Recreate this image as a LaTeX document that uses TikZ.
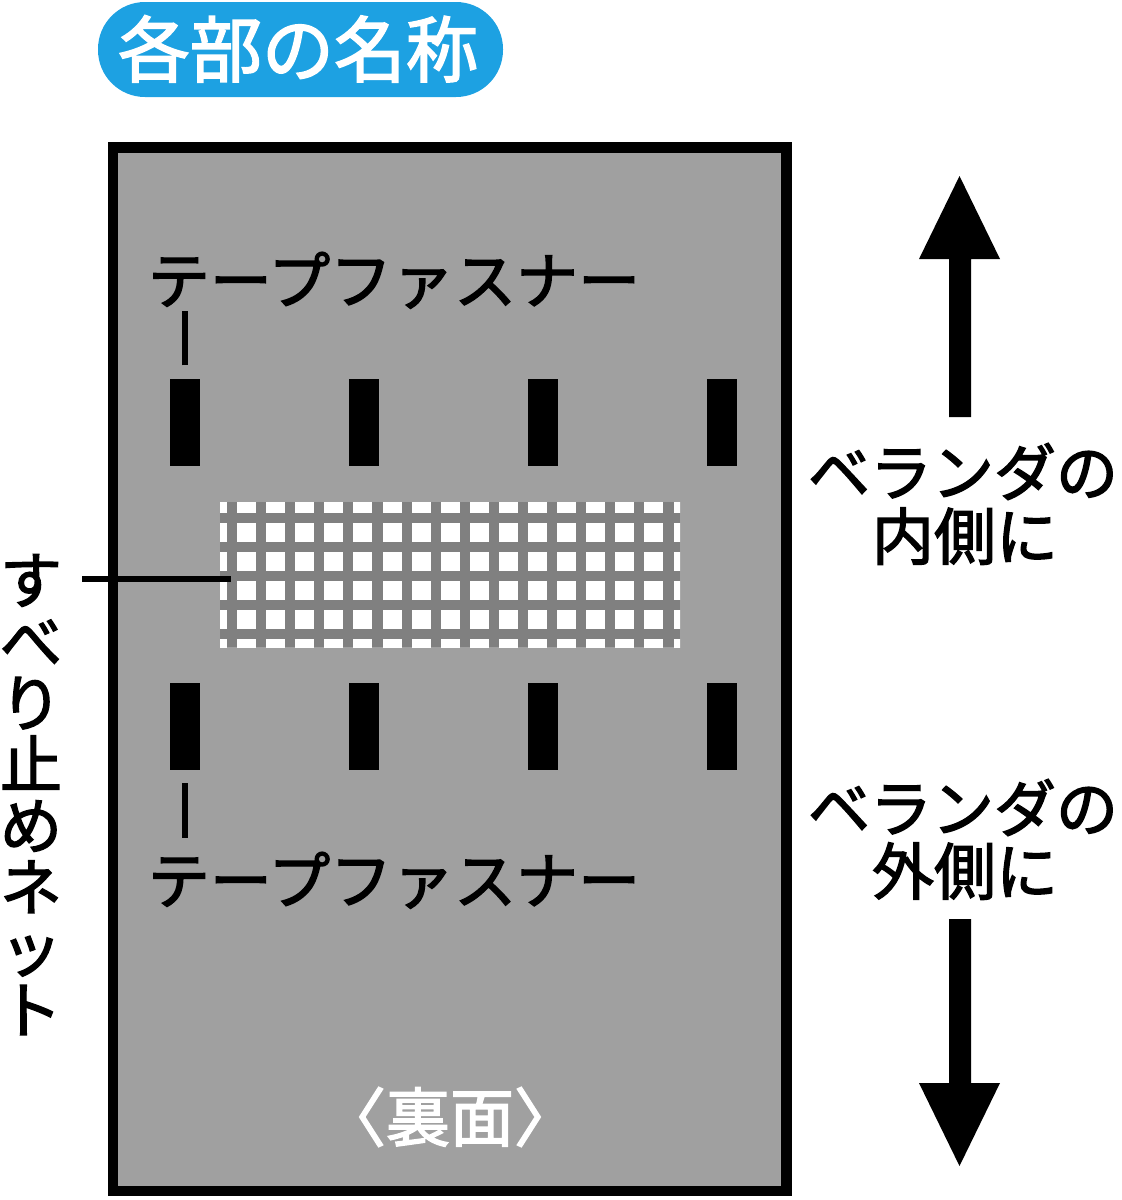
\documentclass[tikz,border=0pt]{standalone}
\usepackage{fontspec}
\newfontfamily\jp[FakeBold=2.2]{Noto Sans CJK JP}
\usetikzlibrary{calc}
\definecolor{titleblue}{RGB}{29,161,226}
\definecolor{sheetgray}{RGB}{160,160,160}
\definecolor{netgray}{RGB}{128,128,128}
\tikzset{
  lbl/.style={inner sep=0pt, font=\jp\fontsize{62}{62}\selectfont, text height=54.6pt, text depth=7.4pt},
  tape/.style={fill=black, inner sep=0pt, minimum width=30pt, minimum height=87pt},
  leader/.style={line width=6.5pt},
}
\begin{document}
\begin{tikzpicture}[x=1pt,y=-1pt]
\useasboundingbox (0,0) rectangle (1122,1200);
% title
\node[fill=titleblue, rounded corners=47pt, minimum width=405pt, minimum height=95pt, inner sep=0pt] (titlebox) at (300.5,49.5) {};
\node[lbl, text=white, font=\jp\fontsize{72}{72}\selectfont, text height=63.4pt, text depth=8.6pt] (title) at (298,49) {各部の名称};
% sheet
\node[draw=black, line width=10.5pt, fill=sheetgray, minimum width=673.5pt, minimum height=1043.5pt, inner sep=0pt] (sheet) at (449.75,669.25) {};
% tapes
\foreach \k/\x in {1/185,2/364,3/543,4/722}{
  \node[tape] (t\k) at (\x,422) {};
  \node[tape] (b\k) at (\x,726.5) {};
}
% net
\node[fill=netgray, minimum width=460pt, minimum height=145pt, inner sep=0pt] (net) at (450,574.5) {};
\begin{scope}
\clip (220,502) rectangle (680,647);
\foreach \i in {-1,...,15}{
  \foreach \j in {-1,...,4}{
    \fill[white] (237+29.1*\i, 523+29*\j) rectangle ++(19,19);
  }
}
\end{scope}
% labels
\node[lbl] (toplabel) at (394,280) {テープファスナー};
\node[lbl] (botlabel) at (394,880) {テープファスナー};
\draw[leader, shorten <=13pt] (t1.north) -- (t1.north |- toplabel.south);
\draw[leader, shorten <=13pt, shorten >=11pt] (b1.south) -- (b1.south |- botlabel.north);
% vertical label
\foreach \c [count=\k] in {す,べ,り,止,め,ネ,ッ,ト}{
  \node[lbl] (v\k) at (31, 549+61.4*\k-30.7) {\c};
}
\coordinate (netleft) at (82,579);
\coordinate (netend) at (231,579);
\draw[leader] (netleft) -- (netend);
% back label
\node[lbl, text=white, font=\jp\fontsize{64}{64}\selectfont, text height=56.3pt, text depth=7.7pt] (back) at (450,1117) {〈裏面〉};
% right side
\node[lbl] (in1) at (963,472) {ベランダの};
\node[lbl] (in2) at (965,536) {内側に};
\node[lbl] (out1) at (963,808) {ベランダの};
\node[lbl] (out2) at (965,871) {外側に};
\fill (949,417) -- (949,259) -- (919,259) -- (959.5,176) -- (1000,259) -- (971,259) -- (971,417) -- cycle;
\fill (949,919) -- (949,1083) -- (919,1083) -- (959.5,1166) -- (1000,1083) -- (971,1083) -- (971,919) -- cycle;
\end{tikzpicture}
\end{document}
